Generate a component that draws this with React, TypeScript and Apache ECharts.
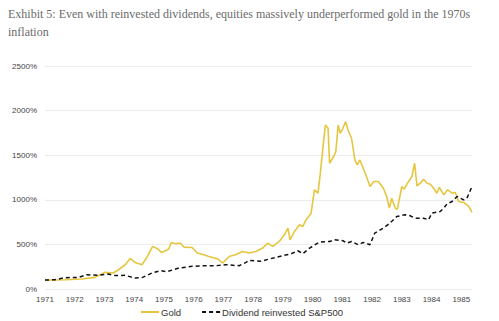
import React, { useEffect, useRef } from "react";
import * as echarts from "echarts";

const titleLine1 = "Exhibit 5: Even with reinvested dividends, equities massively underperformed gold in the 1970s";
const titleLine2 = "inflation";

const yTicks = [0, 500, 1000, 1500, 2000, 2500];

const goldYears = [
  1971.0, 1971.67, 1972.23, 1972.68, 1973.0, 1973.3, 1973.47, 1973.7, 1973.86, 1974.03,
  1974.26, 1974.43, 1974.62, 1974.8, 1974.91, 1975.05, 1975.16, 1975.25, 1975.39, 1975.55,
  1975.67, 1975.95, 1976.12, 1976.34, 1976.51, 1976.79, 1976.98, 1977.19, 1977.41, 1977.64,
  1977.87, 1978.09, 1978.32, 1978.49, 1978.66, 1978.88, 1979.05, 1979.17, 1979.24, 1979.39,
  1979.56, 1979.67, 1979.78, 1979.95, 1980.06, 1980.18, 1980.26, 1980.35, 1980.43, 1980.52,
  1980.57, 1980.71, 1980.78, 1980.86, 1980.93, 1981.02, 1981.11, 1981.19, 1981.31, 1981.42,
  1981.5, 1981.59, 1981.7, 1981.81, 1981.93, 1982.06, 1982.21, 1982.38, 1982.49, 1982.58,
  1982.66, 1982.78, 1982.85, 1983.0, 1983.08, 1983.19, 1983.34, 1983.43, 1983.51, 1983.62,
  1983.73, 1983.85, 1983.96, 1984.07, 1984.18, 1984.26, 1984.41, 1984.54, 1984.69, 1984.8,
  1984.91, 1985.08, 1985.25, 1985.36,
];
const goldValues = [
  100, 104, 112, 130, 186, 179, 216, 272, 343, 298,
  272, 358, 478, 448, 410, 429, 448, 522, 507, 515,
  470, 466, 403, 384, 365, 340, 291, 365, 384, 421,
  403, 421, 459, 515, 477, 533, 608, 683, 552, 645,
  720, 701, 776, 850, 1112, 1074, 1298, 1596, 1839, 1802,
  1410, 1485, 1540, 1839, 1746, 1802, 1876, 1783, 1690, 1447,
  1391, 1447, 1354, 1261, 1149, 1205, 1205, 1130, 1037, 906,
  1018, 906, 895, 1149, 1119, 1186, 1261, 1410, 1156, 1186,
  1231, 1186, 1175, 1130, 1074, 1141, 1056, 1112, 1074, 1082,
  981, 970, 925, 858,
];

const spxYears = [
  1971.0, 1971.33, 1971.67, 1972.12, 1972.4, 1972.8, 1973.13, 1973.36, 1973.69, 1974.03,
  1974.26, 1974.6, 1974.88, 1975.1, 1975.5, 1975.95, 1976.29, 1976.74, 1977.08, 1977.53,
  1977.76, 1977.87, 1978.26, 1978.54, 1978.99, 1979.28, 1979.5, 1979.67, 1979.9, 1980.23,
  1980.57, 1980.74, 1981.02, 1981.16, 1981.31, 1981.53, 1981.7, 1981.93, 1982.09, 1982.38,
  1982.6, 1982.83, 1983.11, 1983.28, 1983.45, 1983.73, 1983.9, 1984.01, 1984.29, 1984.41,
  1984.52, 1984.69, 1984.86, 1985.08, 1985.19, 1985.36,
];
const spxValues = [
  100, 104, 127, 130, 160, 153, 168, 150, 153, 123,
  127, 179, 205, 194, 235, 254, 261, 261, 272, 261,
  298, 321, 310, 336, 373, 395, 429, 395, 459, 526,
  533, 552, 541, 515, 533, 496, 522, 496, 627, 683,
  739, 813, 832, 821, 794, 794, 776, 850, 869, 906,
  955, 981, 1037, 1000, 1018, 1149,
];

const seriesNames = ["Gold", "Dividend reinvested S&P500"];

export default function App() {
  const ref = useRef<HTMLDivElement>(null);
  useEffect(() => {
    if (!ref.current) return;
    const chart = echarts.init(ref.current, undefined, { renderer: "svg" });
    chart.setOption({
      animation: false,
      backgroundColor: "#ffffff",
      title: [
        {
          text: titleLine1 + "\n" + titleLine2,
          left: 8,
          top: 5,
          padding: 0,
          textStyle: {
            fontFamily: "Liberation Serif",
            fontSize: 12,
            fontWeight: "normal",
            color: "#6b6b6b",
            lineHeight: 18,
          },
        },
      ],
      grid: { left: 45, right: 27, top: 66, bottom: 32 },
      xAxis: {
        type: "value",
        min: 1971,
        max: 1985.36,
        interval: 1,
        axisLine: { show: false },
        axisTick: { show: false },
        splitLine: { show: false },
        axisLabel: {
          showMaxLabel: false,
          color: "#444",
          fontSize: 8,
          fontFamily: "Liberation Sans",
          margin: 6,
          formatter: (v: number) => (Number.isInteger(v) ? String(v) : ""),
        },
      },
      yAxis: {
        type: "value",
        min: yTicks[0],
        max: yTicks[yTicks.length - 1],
        interval: 500,
        axisLine: { show: false },
        axisTick: { show: false },
        splitLine: { lineStyle: { color: "#ececec", width: 1 } },
        axisLabel: {
          color: "#444",
          fontSize: 8,
          fontFamily: "Liberation Sans",
          margin: 8,
          formatter: (v: number) => v + "%",
        },
      },
      legend: {
        top: 307,
        left: 140,
        padding: 0,
        itemWidth: 18,
        itemHeight: 8,
        itemGap: 20,
        itemStyle: { opacity: 0 },
        textStyle: { fontSize: 9.5, color: "#333", fontFamily: "Liberation Sans", padding: [0, 0, 0, -3] },
        data: seriesNames,
      },
      series: [
        {
          name: seriesNames[0],
          type: "line",
          symbol: "none",
          data: goldYears.map((y, i) => [y, goldValues[i]]),
          lineStyle: { color: "#e6c640", width: 1.6 },
          itemStyle: { color: "#e6c640" },
        },
        {
          name: seriesNames[1],
          type: "line",
          symbol: "none",
          data: spxYears.map((y, i) => [y, spxValues[i]]),
          lineStyle: { color: "#111", width: 1.5, type: [4, 3] },
          itemStyle: { color: "#111" },
        },
      ],
    });
    return () => chart.dispose();
  }, []);
  return (
    <div
      ref={ref}
      style={{ position: "fixed", left: 0, top: 0, width: 499, height: 321 }}
    />
  );
}
